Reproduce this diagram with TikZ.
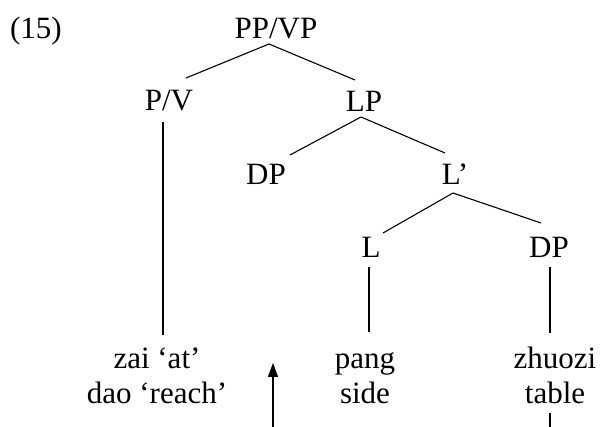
\documentclass[tikz,border=0pt]{standalone}
\usepackage{fontspec}
\setmainfont{Liberation Serif}
\usetikzlibrary{calc,arrows.meta}
\begin{document}
\begin{tikzpicture}[x=1pt,y=-1pt,
  lab/.style={anchor=base,inner sep=0pt,font=\fontsize{31}{35}\selectfont,align=center},
  edge/.style={line width=1.1pt,line cap=butt}]
\useasboundingbox (0,0) rectangle (600,427);
\node[lab] (ex) at (36,39) {(15)};
\node[lab] (ppvp) at (276,39) {PP/VP};
\node[lab] (pv) at (169,111) {P/V};
\node[lab] (lp) at (364,112) {LP};
\node[lab] (dp1) at (266,185) {DP};
\node[lab] (lbar) at (455,185) {L’};
\node[lab] (l) at (371,258) {L};
\node[lab] (dp2) at (549,258) {DP};
\node[lab] (zai) at (157,404) {zai ‘at’\\dao ‘reach’};
\node[lab] (pang) at (365,404) {pang\\side};
\node[lab] (zhuozi) at (555,404) {zhuozi\\table};
\coordinate (tableend) at (550,427);
\coordinate (arrowtail) at (273,427);
\coordinate (arrowtip) at (273,363);

\draw[edge] ($(ppvp.base)+(-7,5)$) -- ($(pv.base)+(17,-33)$);
\draw[edge] ($(ppvp.base)+(-7,5)$) -- ($(lp.base)+(-9,-32)$);
\draw[edge] ($(lp.base)+(-3,5)$) -- ($(dp1.base)+(24,-30)$);
\draw[edge] ($(lp.base)+(-3,5)$) -- ($(lbar.base)+(-10,-32)$);
\draw[edge] ($(lbar.base)+(-2,8)$) -- ($(l.base)+(12,-25)$);
\draw[edge] ($(lbar.base)+(-2,8)$) -- ($(dp2.base)+(-8,-35)$);
\draw[edge] ($(pv.base)+(-6,11)$) -- ($(zai.base)+(6,-69)$);
\draw[edge] ($(l.base)+(-2,9)$) -- ($(pang.base)+(4,-72)$);
\draw[edge] ($(dp2.base)+(1,9)$) -- ($(zhuozi.base)+(-5,-71)$);
\draw[edge] ($(zhuozi.base)+(-5,9)$) -- (tableend);
\draw[edge,-{Triangle[width=10pt,length=14pt]}] (arrowtail) -- (arrowtip);
\end{tikzpicture}
\end{document}
